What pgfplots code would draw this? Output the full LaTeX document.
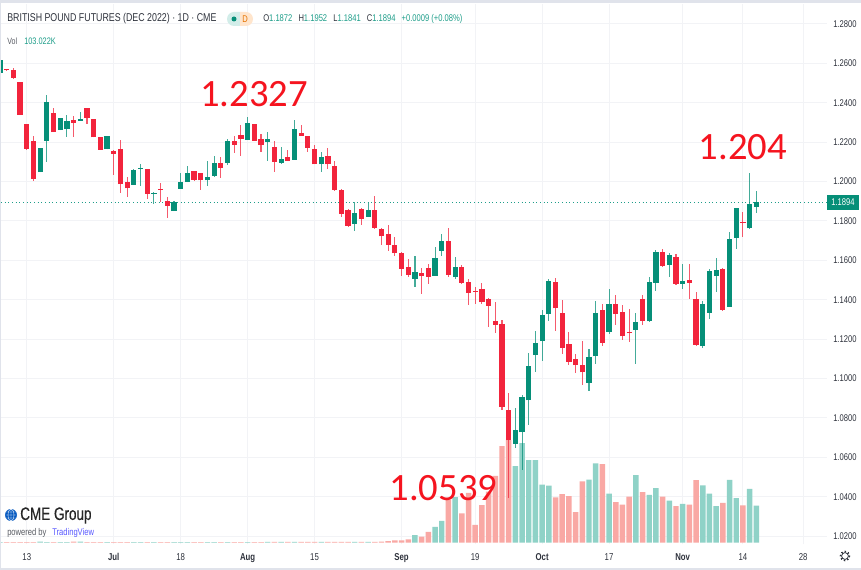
\documentclass[border=0pt]{standalone}
\usepackage{pgfplots}
\usepackage{pgfplotstable}
\pgfplotsset{compat=1.18}
\usepackage{fontspec}
\setmainfont[FakeStretch=0.78]{Liberation Sans}
\newfontfamily\anno{Carlito}
\newfontfamily\cme[FakeStretch=0.75,FakeBold=0.3]{Liberation Sans}
\definecolor{upc}{HTML}{068F78}
\definecolor{dnc}{HTML}{F2243C}
\definecolor{upv}{HTML}{8FD2C7}
\definecolor{dnv}{HTML}{F9A8A4}
\definecolor{gridc}{HTML}{F2F3F6}
\definecolor{band}{HTML}{E0E3EB}
\definecolor{lab}{HTML}{2E323C}
\definecolor{tealv}{HTML}{1E9E8A}
\definecolor{annoc}{HTML}{F5141F}
\pgfplotstableread{
i h t b l v c
0 1.2617 1.2617 1.2549 1.2549 1.5 1
1 1.2571 1.2569 1.2564 1.2563 1.5 0
2 1.2574 1.2566 1.2527 1.2524 1.5 0
3 1.2503 1.2503 1.2339 1.2339 1.5 0
4 1.2292 1.2292 1.2167 1.2160 1.5 0
5 1.2231 1.2204 1.2014 1.2001 1.5 0
6 1.2170 1.2170 1.2047 1.2047 3 1
7 1.2439 1.2404 1.2207 1.2101 1.5 1
8 1.2373 1.2349 1.2250 1.2250 1.5 0
9 1.2321 1.2321 1.2261 1.2261 1.5 1
10 1.2338 1.2309 1.2265 1.2228 1.5 1
11 1.2333 1.2312 1.2299 1.2224 3 0
12 1.2353 1.2317 1.2309 1.2309 3 1
13 1.2373 1.2373 1.2324 1.2294 1.5 0
14 1.2317 1.2317 1.2224 1.2224 1.5 0
15 1.2224 1.2224 1.2160 1.2160 1.5 0
16 1.2229 1.2229 1.2163 1.2163 1.5 1
17 1.2160 1.2155 1.2140 1.2033 1.5 0
18 1.2211 1.2163 1.1987 1.1943 1.5 0
19 1.2021 1.1997 1.1965 1.1923 1.5 0
20 1.2065 1.2058 1.1984 1.1984 1.5 1
21 1.2087 1.2069 1.2065 1.1977 1.5 1
22 1.2062 1.2062 1.1937 1.1911 1.5 0
23 1.1945 1.1943 1.1937 1.1887 1.5 1
24 1.1991 1.1964 1.1957 1.1898 1.5 0
25 1.1923 1.1903 1.1877 1.1816 1.5 0
26 1.1903 1.1898 1.1850 1.1850 1.5 1
27 1.2042 1.1997 1.1964 1.1964 1.5 1
28 1.2079 1.2042 1.1997 1.1997 1.5 1
29 1.2055 1.2052 1.2008 1.2000 1.5 0
30 1.2042 1.2042 1.2006 1.1957 1.5 0
31 1.2102 1.2021 1.2006 1.1977 1.5 1
32 1.2129 1.2094 1.2028 1.2021 1.5 1
33 1.2123 1.2094 1.2069 1.2016 1.5 0
34 1.2214 1.2207 1.2094 1.2084 1.5 1
35 1.2231 1.2204 1.2187 1.2146 1.5 0
36 1.2287 1.2236 1.2216 1.2129 1.5 0
37 1.2329 1.2297 1.2212 1.2212 1.5 1
38 1.2292 1.2292 1.2207 1.2207 1.5 0
39 1.2241 1.2214 1.2184 1.2151 1.5 0
40 1.2253 1.2216 1.2201 1.2106 2 1
41 1.2204 1.2175 1.2099 1.2048 2 0
42 1.2175 1.2114 1.2094 1.2092 2 1
43 1.2160 1.2126 1.2106 1.2106 2 0
44 1.2312 1.2265 1.2111 1.2111 2 1
45 1.2287 1.2245 1.2233 1.2233 2 0
46 1.2231 1.2231 1.2172 1.2151 2 0
47 1.2185 1.2165 1.2087 1.2087 2 0
48 1.2151 1.2123 1.2087 1.2050 2 1
49 1.2172 1.2130 1.2087 1.2062 2 0
50 1.2104 1.2079 1.1957 1.1952 2 0
51 1.1960 1.1957 1.1837 1.1818 2 0
52 1.1859 1.1854 1.1776 1.1771 2 0
53 1.1898 1.1842 1.1786 1.1750 2 1
54 1.1864 1.1862 1.1811 1.1781 2 0
55 1.1893 1.1855 1.1820 1.1820 2 1
56 1.1925 1.1855 1.1766 1.1761 2 0
57 1.1762 1.1757 1.1722 1.1679 2.8 0
58 1.1778 1.1734 1.1678 1.1649 4.6 0
59 1.1718 1.1679 1.1637 1.1624 6.5 0
60 1.1640 1.1639 1.1556 1.1522 6.5 0
61 1.1607 1.1566 1.1527 1.1514 9.3 0
62 1.1622 1.1539 1.1507 1.1466 21 1
63 1.1561 1.1534 1.1519 1.1431 17 0
64 1.1581 1.1561 1.1517 1.1481 30 0
65 1.1668 1.1612 1.1522 1.1522 44 1
66 1.1734 1.1700 1.1649 1.1624 61 1
67 1.1762 1.1700 1.1527 1.1517 119 0
68 1.1615 1.1566 1.1515 1.1507 127 1
69 1.1575 1.1566 1.1487 1.1478 82 0
70 1.1503 1.1492 1.1434 1.1375 139 0
71 1.1463 1.1444 1.1441 1.1378 50 0
72 1.1486 1.1456 1.1388 1.1378 105 0
73 1.1407 1.1404 1.1370 1.1260 142 0
74 1.1388 1.1290 1.1272 1.1233 186 0
75 1.1297 1.1277 1.0857 1.0840 269 0
76 1.0928 1.0842 1.0686 1.0393 286 0
77 1.0849 1.0739 1.0669 1.0645 213 1
78 1.0916 1.0904 1.0727 1.0536 277 1
79 1.1131 1.1063 1.0889 1.0762 230 1
80 1.1241 1.1180 1.1119 1.1035 230 1
81 1.1348 1.1322 1.1190 1.1091 162 1
82 1.1505 1.1493 1.1329 1.1294 159 1
83 1.1508 1.1488 1.1356 1.1243 126 0
84 1.1398 1.1331 1.1156 1.1124 135 0
85 1.1236 1.1175 1.1084 1.1067 130 0
86 1.1123 1.1099 1.1068 1.1030 85 0
87 1.1192 1.1070 1.1031 1.0965 171 0
88 1.1150 1.1107 1.0979 1.0937 176 1
89 1.1395 1.1334 1.1112 1.1072 221 1
90 1.1378 1.1348 1.1182 1.1165 219 0
91 1.1456 1.1378 1.1238 1.1226 137 1
92 1.1424 1.1378 1.1329 1.1272 113 0
93 1.1371 1.1338 1.1214 1.1197 106 0
94 1.1351 1.1236 1.1231 1.1185 128 0
95 1.1331 1.1287 1.1248 1.1075 188 1
96 1.1422 1.1404 1.1292 1.1273 141 0
97 1.1517 1.1490 1.1290 1.1287 133 1
98 1.1652 1.1642 1.1486 1.1446 152 1
99 1.1659 1.1642 1.1571 1.1568 128 0
100 1.1639 1.1627 1.1578 1.1517 117 1
101 1.1630 1.1617 1.1480 1.1476 102 0
102 1.1581 1.1496 1.1480 1.1453 108 1
103 1.1581 1.1500 1.1485 1.1405 106 0
104 1.1437 1.1403 1.1172 1.1165 174 0
105 1.1395 1.1378 1.1165 1.1155 160 1
106 1.1554 1.1546 1.1334 1.1304 137 1
107 1.1610 1.1551 1.1522 1.1441 102 1
108 1.1562 1.1557 1.1348 1.1344 111 0
109 1.1745 1.1708 1.1363 1.1363 175 1
110 1.1865 1.1865 1.1713 1.1659 124 1
111 1.1843 1.1796 1.1791 1.1720 104 0
112 1.2041 1.1886 1.1762 1.1759 150 1
113 1.1952 1.1894 1.1872 1.1841 103.022 1
}\ohlc
\pgfplotsset{
  onlydn/.style={restrict expr to domain={\thisrow{c}}{-0.5:0.5}},
  onlyup/.style={restrict expr to domain={\thisrow{c}}{0.5:1.5}},
  frame/.style={
    at={(0.75pt,-408pt)}, anchor=south west, scale only axis,
    width=619.5pt, height=405pt,
    xmin=0.15, xmax=123.56, clip=true},
  wick/.style={draw=none, mark=none, forget plot,
    error bars/.cd, y dir=both, y explicit, error mark=none,
    error bar style={line width=0.8pt, draw=#1, opacity=0.75}, /pgfplots/.cd},
  body/.style={draw=none, mark=none, forget plot,
    error bars/.cd, y dir=plus, y explicit, error mark=none,
    error bar style={line width=3.9pt, draw=#1}, /pgfplots/.cd},
}
\begin{document}
\begin{tikzpicture}
\fill[white] (0,0) rectangle (645.75pt,-427.5pt);
% grid, tick labels, last price line
\begin{axis}[frame, ymin=1.0160, ymax=1.2901,
  axis line style={draw=none}, major tick length=0pt,
  xtick={4,17,27,37,47,60,71,81,91,102,111,120},
  xticklabels={13,\textbf{Jul},18,\textbf{Aug},15,\textbf{Sep},19,\textbf{Oct},17,\textbf{Nov},14,28},
  ytick={1.02,1.04,1.06,1.08,1.10,1.12,1.14,1.16,1.18,1.20,1.22,1.24,1.26,1.28},
  grid=major, grid style={gridc, line width=0.75pt},
  yticklabel pos=right,
  /pgf/number format/.cd, fixed, fixed zerofill, precision=4, assume math mode=true,
  /pgfplots/.cd,
  yticklabel style={font=\fontsize{7.3pt}{8pt}\selectfont, text=lab, anchor=west, inner sep=0pt, xshift=4.5pt},
  xticklabel style={font=\fontsize{7.5pt}{8pt}\selectfont, text=lab, anchor=base, inner sep=0pt, yshift=-12pt},
]
\addplot[tealv, line width=0.75pt, dotted, forget plot] coordinates {(0.15,1.1894) (123.56,1.1894)};
\end{axis}
% volume
\begin{axis}[frame, hide axis, ymin=-3.6, ymax=1500.3, ybar, bar width=4.1pt, bar shift=0pt]
\addplot[onlydn, fill=dnv, draw=none] table[x=i, y=v] {\ohlc};
\addplot[onlyup, fill=upv, draw=none] table[x=i, y=v] {\ohlc};
\end{axis}
% candles
\begin{axis}[frame, hide axis, ymin=1.0160, ymax=1.2901]
\addplot[onlydn, wick=dnc] table[x=i, y=b, y error plus expr=\thisrow{h}-\thisrow{b}, y error minus expr=\thisrow{b}-\thisrow{l}] {\ohlc};
\addplot[onlyup, wick=upc] table[x=i, y=b, y error plus expr=\thisrow{h}-\thisrow{b}, y error minus expr=\thisrow{b}-\thisrow{l}] {\ohlc};
\addplot[onlydn, body=dnc] table[x=i, y=b, y error plus expr=\thisrow{t}-\thisrow{b}] {\ohlc};
\addplot[onlyup, body=upc] table[x=i, y=b, y error plus expr=\thisrow{t}-\thisrow{b}] {\ohlc};
\end{axis}
\begin{scope}[x=0.75pt, y=-0.75pt]
% frame bands
\fill[band] (0,0) rectangle (861,3);
\fill[band] (0,0) rectangle (1,570);
\fill[band] (0,568) rectangle (861,570);
% price box
\fill[upc] (827,195) rectangle (859,210);
\node[text=white, font=\fontsize{7.3pt}{8pt}\selectfont, inner sep=0pt] at (843,202.5) {1.1894};
% header
\node[anchor=west, inner sep=0pt, text=lab, font=\fontsize{8.5pt}{9pt}\selectfont] at (7,19) {BRITISH POUND FUTURES (DEC 2022) · 1D · CME};
\fill[upv!40] (234,12) arc (270:90:7) -- (240,26) -- (240,12) -- cycle;
\fill[orange!20] (246,12) arc (270:450:7) -- (240,26) -- (240,12) -- cycle;
\fill[upc] (234,19) circle (2.5);
\node[text=orange!90!black, inner sep=0pt, font=\fontsize{7.3pt}{8pt}\selectfont] at (245,19) {D};
\node[anchor=west, inner sep=0pt, text=lab, font=\fontsize{7.3pt}{9pt}\selectfont] at (263,19) {O\textcolor{tealv}{1.1872}\hspace{3pt} H\textcolor{tealv}{1.1952}\hspace{3pt} L\textcolor{tealv}{1.1841}\hspace{3pt} C\textcolor{tealv}{1.1894}\hspace{3pt} \textcolor{tealv}{+0.0009 (+0.08\%)}};
\node[anchor=west, inner sep=0pt, text=lab!80, font=\fontsize{6.8pt}{8pt}\selectfont] at (7,41) {Vol};
\node[anchor=west, inner sep=0pt, text=tealv, font=\fontsize{7.1pt}{8pt}\selectfont] at (24,41) {103.022K};
% annotations
\node[text=annoc, inner sep=0pt, font=\anno\fontsize{29pt}{30pt}\selectfont] at (254,94) {1.2327};
\node[text=annoc, inner sep=0pt, font=\anno\fontsize{29pt}{30pt}\selectfont] at (743,147) {1.204};
\node[text=annoc, inner sep=0pt, font=\anno\fontsize{29pt}{30pt}\selectfont] at (443.5,488.5) {1.0539};
% logo
\fill[blue!55!cyan!75!black] (11,515) circle (6);
\draw[white, line width=0.25pt] (5,515) -- (17,515) (6,512) -- (16,512) (6,518) -- (16,518) (11,509) -- (11,521) (11,509) arc (270:90:3 and 6) (11,509) arc (270:450:3 and 6);
\node[anchor=west, inner sep=0pt, font=\cme\fontsize{13.5pt}{14pt}\selectfont, text=black!85] at (20,515.5) {CME Group};
\node[anchor=west, inner sep=0pt, text=lab!80, font=\fontsize{7.3pt}{8pt}\selectfont] at (7,533) {powered by};
\node[anchor=west, inner sep=0pt, text=blue!65!white, font=\fontsize{7.3pt}{8pt}\selectfont] at (52,533) {TradingView};
% settings gear
\draw[lab, line width=0.6pt] (845,556) circle (3.4);
\draw[lab, line width=1pt, dash pattern=on 1pt off 1.6pt] (845,556) circle (4.6);
\end{scope}
\end{tikzpicture}
\end{document}
